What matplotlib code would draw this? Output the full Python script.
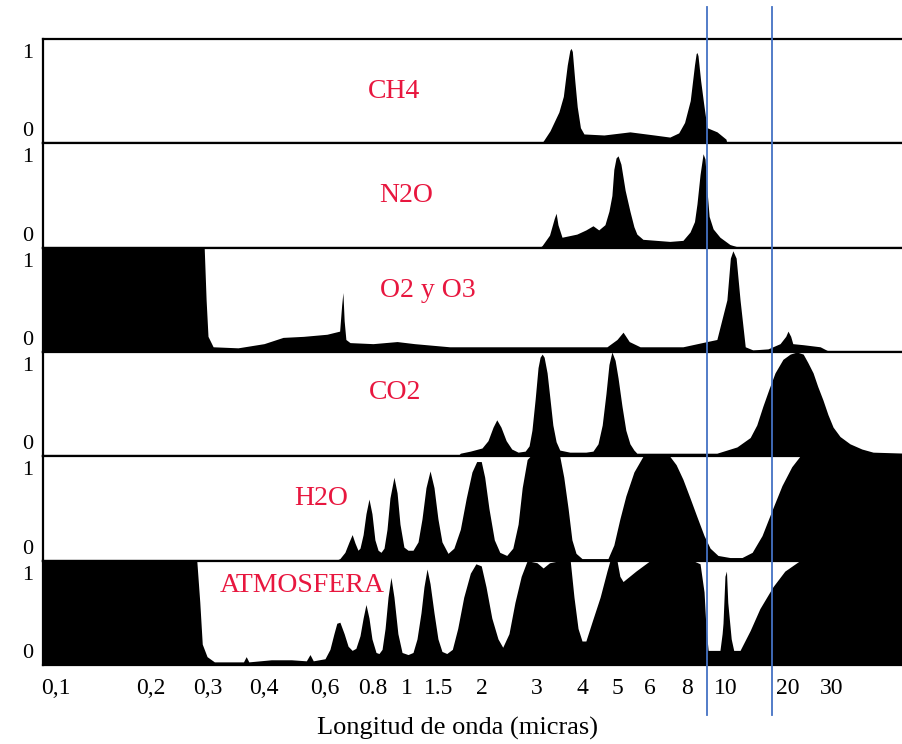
import numpy as np
import matplotlib.pyplot as plt
from matplotlib import transforms
from matplotlib.lines import Line2D
from matplotlib.ticker import NullLocator

plt.rcParams['font.family'] = ['Liberation Serif', 'DejaVu Serif']

# wavelength ticks (micras) and where the hand-drawn axis puts them (px from left)
tick_um = [0.1, 0.2, 0.3, 0.4, 0.6, 0.8, 1, 1.5, 2, 3, 4, 5, 6, 8, 10, 20, 30]
tick_text = ['0,1', '0,2', '0,3', '0,4', '0,6', '0.8', '1', '1.5', '2', '3', '4',
             '5', '6', '8', '10', '20', '30']
tick_px = [56, 151, 208, 264, 325, 373, 407, 439, 482, 537, 582, 617, 650, 687, 726, 788, 832]

gases = ['CH4', 'N2O', 'O2 y O3', 'CO2', 'H2O', 'ATMOSFERA']

ch4_um = [3.05, 3.12, 3.26, 3.45, 3.55, 3.64, 3.70, 3.73, 3.76, 3.82, 3.88, 3.96, 4.05,
          4.6, 5.37, 6.2, 7.0, 7.5, 7.85, 8.15, 8.35, 8.43, 8.47, 8.52, 8.65, 8.8, 8.97,
          9.5, 10.0, 10.1]
ch4_abs = [0, 0.02, 0.12, 0.3, 0.45, 0.75, 0.89, 0.91, 0.88, 0.6, 0.35, 0.15, 0.09,
           0.08, 0.11, 0.08, 0.06, 0.1, 0.2, 0.41, 0.75, 0.86, 0.87, 0.84, 0.6, 0.38, 0.15,
           0.11, 0.04, 0]

n2o_um = [3.05, 3.10, 3.25, 3.35, 3.39, 3.43, 3.52, 3.87, 4.1, 4.29, 4.45, 4.63, 4.75,
          4.84, 4.9, 4.97, 5.03, 5.11, 5.23, 5.37, 5.49, 5.58, 5.77, 7.0, 7.75, 8.14, 8.35,
          8.47, 8.62, 8.77, 8.87, 8.97, 9.08, 9.29, 9.66, 10.45, 11.7]
n2o_abs = [0, 0.02, 0.12, 0.28, 0.33, 0.22, 0.1, 0.13, 0.17, 0.21, 0.17, 0.22, 0.35,
           0.5, 0.75, 0.86, 0.88, 0.8, 0.55, 0.35, 0.2, 0.13, 0.08, 0.06, 0.07, 0.15, 0.25,
           0.42, 0.7, 0.9, 0.85, 0.55, 0.3, 0.18, 0.1, 0.03, 0]

o3_um = [0.09, 0.292, 0.296, 0.30, 0.308, 0.35, 0.40, 0.454, 0.52, 0.607, 0.655, 0.663,
         0.668, 0.673, 0.68, 0.697, 0.8, 0.937, 1.1, 1.61, 3.0, 4.69, 5.0, 5.17, 5.35, 5.68,
         7.75, 8.97, 9.49, 10.1, 10.5, 10.8, 11.2, 11.7, 12.4, 13.5, 16.0, 18.3, 19.5, 20.0,
         20.5, 20.9, 23.0, 26.9, 29.5]
o3_abs = [1, 1, 0.5, 0.15, 0.05, 0.04, 0.08, 0.14, 0.15, 0.17, 0.2, 0.45,
          0.57, 0.3, 0.12, 0.09, 0.08, 0.1, 0.08, 0.05, 0.05, 0.05, 0.12, 0.19, 0.1, 0.05,
          0.05, 0.1, 0.12, 0.5, 0.9, 0.97, 0.9, 0.5, 0.05, 0.02, 0.03, 0.08, 0.15, 0.2,
          0.15, 0.08, 0.07, 0.05, 0]

co2_um = [1.7, 1.73, 1.85, 2.0, 2.09, 2.17, 2.23, 2.30, 2.39, 2.49, 2.61, 2.75, 2.83,
          2.89, 2.96, 3.02, 3.06, 3.10, 3.14, 3.20, 3.26, 3.32, 3.39, 3.47, 3.7, 4.1,
          4.29, 4.43, 4.55, 4.66, 4.75, 4.84, 4.94, 5.03, 5.14, 5.25, 5.37, 5.49, 5.58,
          9.49, 11.3, 13.1, 14.1, 15.1, 16.2, 17.3, 18.9, 20.4, 21.7, 23.0, 24.0, 25.2,
          26.3, 27.6, 28.9, 30.3, 32.3, 35.4, 39.5, 43.8, 60.0]
co2_abs = [0, 0.03, 0.05, 0.08, 0.15, 0.28, 0.35, 0.28, 0.15, 0.07, 0.04, 0.05, 0.1,
           0.25, 0.55, 0.85, 0.95, 0.98, 0.95, 0.8, 0.55, 0.3, 0.14, 0.06, 0.04, 0.04,
           0.05, 0.12, 0.3, 0.6, 0.88, 1.0, 0.92, 0.75, 0.48, 0.25, 0.12, 0.06, 0.03,
           0.03, 0.09, 0.18, 0.3, 0.48, 0.65, 0.8, 0.93, 0.98, 1.0, 0.98, 0.9, 0.8,
           0.67, 0.54, 0.4, 0.28, 0.19, 0.12, 0.07, 0.04, 0.03]

h2o_um = [0.64, 0.656, 0.676, 0.693, 0.706, 0.718, 0.731, 0.740, 0.754, 0.767, 0.781,
          0.795, 0.81, 0.827, 0.843, 0.86, 0.877, 0.894, 0.918, 0.937, 0.955, 0.98, 1.013,
          1.079, 1.15, 1.209, 1.272, 1.339, 1.408, 1.48, 1.53, 1.593, 1.657, 1.73, 1.80,
          1.87, 1.93, 1.99, 2.04, 2.105, 2.19, 2.28, 2.40, 2.51, 2.61, 2.69, 2.79, 2.85,
          3.47, 3.56, 3.66, 3.75, 3.85, 4.0, 4.72, 4.90, 5.08, 5.25, 5.49, 5.77, 7.0,
          7.35, 7.75, 8.14, 8.47, 8.82, 9.13, 9.55, 10.45, 11.96, 13.4, 14.96, 16.7,
          18.7, 20.7, 22.3, 60.0]
h2o_abs = [0, 0.02, 0.08, 0.18, 0.25, 0.17, 0.1, 0.12, 0.25, 0.45, 0.59,
           0.45, 0.2, 0.1, 0.08, 0.12, 0.3, 0.6, 0.8, 0.65, 0.35, 0.13, 0.1,
           0.1, 0.18, 0.4, 0.7, 0.86, 0.7, 0.4, 0.18, 0.07, 0.12, 0.3, 0.6,
           0.85, 0.95, 0.95, 0.8, 0.5, 0.2, 0.08, 0.05, 0.12, 0.35, 0.7, 0.97, 1.0,
           1.0, 0.8, 0.5, 0.2, 0.07, 0.02, 0.02, 0.15, 0.4, 0.62, 0.85, 1.0, 1.0,
           0.92, 0.78, 0.6, 0.42, 0.24, 0.12, 0.05, 0.03, 0.03, 0.08, 0.24, 0.48,
           0.72, 0.9, 1.0, 1.0]

atm_um = [0.09, 0.277, 0.283, 0.288, 0.298, 0.31, 0.36, 0.365, 0.37, 0.42, 0.48, 0.53,
          0.543, 0.555, 0.6, 0.618, 0.633, 0.644, 0.656, 0.673, 0.689, 0.706, 0.722, 0.740,
          0.754, 0.767, 0.781, 0.795, 0.816, 0.832, 0.849, 0.866, 0.883, 0.90, 0.918,
          0.942, 0.968, 1.013, 1.079, 1.135, 1.194, 1.24, 1.289, 1.339, 1.408, 1.48, 1.53,
          1.58, 1.64, 1.70, 1.77, 1.85, 1.92, 1.99, 2.06, 2.15, 2.25, 2.33, 2.44, 2.55,
          2.67, 2.79, 3.0, 3.12, 3.25, 3.47, 3.71, 3.80, 3.90, 4.0, 4.10, 4.27, 4.49,
          4.69, 4.78, 5.0, 5.08, 5.17, 5.55, 6.0, 8.28, 8.62, 8.82, 8.92, 9.03, 9.66,
          9.78, 9.83, 9.94, 10.05, 10.2, 10.6, 10.9, 11.7, 13.1, 14.6, 16.9, 19.3, 22.3,
          60.0]
atm_abs = [1, 1, 0.6, 0.2, 0.08, 0.03, 0.03, 0.08, 0.03, 0.05, 0.05, 0.04,
           0.1, 0.04, 0.06, 0.15, 0.3, 0.4, 0.41, 0.3, 0.18, 0.14, 0.16, 0.28,
           0.45, 0.58, 0.45, 0.25, 0.12, 0.11, 0.15, 0.35, 0.65, 0.84, 0.65,
           0.3, 0.12, 0.1, 0.12, 0.25, 0.5, 0.75, 0.92, 0.78, 0.5, 0.25, 0.13,
           0.11, 0.15, 0.35, 0.65, 0.88, 0.97, 0.95, 0.75, 0.45, 0.25, 0.17, 0.3, 0.6,
           0.85, 1.0, 0.98, 0.93, 0.98, 1.0, 1.0, 0.65, 0.35, 0.23, 0.23, 0.42, 0.65,
           0.9, 1.0, 1.0, 0.85, 0.8, 0.9, 1.0, 1.0, 0.97, 0.7, 0.35, 0.14, 0.14,
           0.3, 0.4, 0.85, 0.9, 0.6, 0.25, 0.14, 0.14, 0.33, 0.54, 0.75, 0.9, 1.0,
           1.0]

spectra = [(ch4_um, ch4_abs), (n2o_um, n2o_abs), (o3_um, o3_abs),
           (co2_um, co2_abs), (h2o_um, h2o_abs), (atm_um, atm_abs)]

# marked wavelengths (blue guide lines)
guides_um = [8.97, 16.7]

# ---- axis mapping that follows the drawn (not exactly logarithmic) tick spacing
lt = np.log10(tick_um)
tp = np.array(tick_px, dtype=float)
s0 = (tp[1] - tp[0]) / (lt[1] - lt[0])
s1 = (tp[-1] - tp[-2]) / (lt[-1] - lt[-2])


def fwd(x):
    lx = np.log10(np.clip(np.asarray(x, dtype=float), 1e-6, None))
    u = np.interp(lx, lt, tp)
    u = np.where(lx < lt[0], tp[0] + (lx - lt[0]) * s0, u)
    u = np.where(lx > lt[-1], tp[-1] + (lx - lt[-1]) * s1, u)
    return u


def inv(u):
    u = np.asarray(u, dtype=float)
    lx = np.interp(u, tp, lt)
    lx = np.where(u < tp[0], lt[0] + (u - tp[0]) / s0, lx)
    lx = np.where(u > tp[-1], lt[-1] + (u - tp[-1]) / s1, lx)
    return 10 ** lx


W, H = 903, 744
fig = plt.figure(figsize=(W / 100, H / 100), dpi=100)
axes = fig.subplots(6, 1, sharex=True,
                    gridspec_kw=dict(hspace=0, left=43 / W, right=1.0,
                                     top=1 - 39 / H, bottom=1 - 665 / H))

label_pos = [(0.408, 0.50), (0.422, 0.50), (0.448, 0.585),
             (0.409, 0.61), (0.324, 0.60), (0.302, 0.76)]
red = '#e8173f'

for ax, name, (xs, ys), (lx_, ly_) in zip(axes, gases, spectra, label_pos):
    ax.set_xscale('function', functions=(fwd, inv))
    ax.fill_between(xs, ys, 0, color='black', lw=0)
    ax.set_ylim(0, 1)
    ax.set_yticks([0, 1], ['0', '1'], fontsize=16)
    ax.tick_params(axis='both', length=0)
    ax.tick_params(axis='y', pad=7)
    for sp in ['top', 'bottom', 'left']:
        ax.spines[sp].set_linewidth(1.6)
    ax.spines['right'].set_visible(False)
    ax.text(lx_, ly_, name, transform=ax.transAxes, color=red, fontsize=20,
            ha='center', va='center')
    # nudge the 0/1 labels inside the panel as in the drawing
    labs = ax.get_yticklabels()
    labs[0].set_transform(labs[0].get_transform() +
                          transforms.ScaledTranslation(0, 14 / 100, fig.dpi_scale_trans))
    labs[1].set_transform(labs[1].get_transform() +
                          transforms.ScaledTranslation(0, -12 / 100, fig.dpi_scale_trans))

ax = axes[-1]
ax.set_xlim(inv([43, 903]))
ax.set_xticks(tick_um, tick_text, fontsize=17)
ax.xaxis.set_minor_locator(NullLocator())
ax.tick_params(axis='x', pad=9)
ax.set_xlabel('Longitud de onda (micras)', fontsize=19)
ax.xaxis.set_label_coords((458 - 43) / 860, (665 - 717) / ((665 - 39) / 6))

trans = transforms.blended_transform_factory(ax.transData, fig.transFigure)
for g in guides_um:
    fig.add_artist(Line2D([g, g], [1 - 7 / H, 1 - 715 / H], transform=trans,
                          color='#4472c4', lw=1.3))

fig.savefig('out.png', dpi=100)
